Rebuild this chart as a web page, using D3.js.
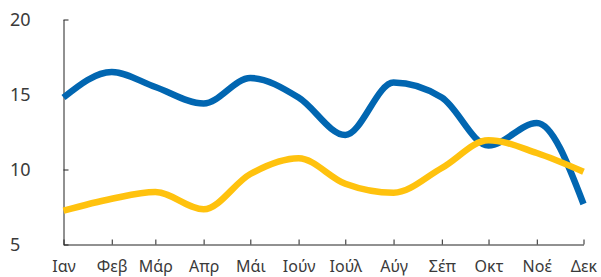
<!DOCTYPE html>
<html>
<head>
<meta charset="utf-8">
<script src="https://cdn.jsdelivr.net/npm/d3@7"></script>
<style>
  body { margin: 0; background: #fff; }
  text { font-family: "Noto Sans", sans-serif; fill: #3a3a3a; }
</style>
</head>
<body>
<div class="chart"></div>
<script>
// month labels (greek) and the first day of each month
var months = ["Ιαν", "Φεβ", "Μάρ", "Απρ", "Μάι", "Ιούν", "Ιούλ", "Αύγ", "Σέπ", "Οκτ", "Νοέ", "Δεκ"]
var blueValues = [14.8, 16.5, 15.5, 14.4, 16.1, 14.8, 12.3, 15.8, 14.8, 11.6, 13.1, 7.7]
var yellowValues = [7.25, 8.05, 8.5, 7.35, 9.7, 10.75, 9.05, 8.45, 10.1, 11.95, 11.1, 9.85]
var yTicks = [5, 10, 15, 20]

var width = 601
var height = 277

var svg = d3.select(".chart").append("svg")
    .attr("width", width)
    .attr("height", height)

var dates = months.map(function(_, i) { return new Date(2019, i, 1) })

var xScale = d3.scaleTime()
    .domain([dates[0], dates[11]])
    .range([63.5, 583.5])
var yScale = d3.scaleLinear()
    .domain([5, 20])
    .range([244.5, 19.5])

// x axis, ticks pointing up
var xAxis = d3.axisBottom(xScale)
    .tickValues(dates)
    .tickSizeInner(-5)
    .tickSizeOuter(0)
    .tickFormat(function(d, i) { return months[i] })
svg.append("g")
    .attr("class", "x-axis")
    .attr("transform", "translate(0," + yScale(5) + ")")
    .call(xAxis)
    .selectAll("text")
    .attr("y", 16)
    .attr("dy", "0.71em")
    .style("font-size", "16px")

// y axis, ticks pointing right, labels left aligned
var yAxis = d3.axisLeft(yScale)
    .tickValues(yTicks)
    .tickSizeInner(-5)
    .tickSizeOuter(0)
svg.append("g")
    .attr("class", "y-axis")
    .attr("transform", "translate(" + xScale(dates[0]) + ",0)")
    .call(yAxis)
    .selectAll("text")
    .attr("text-anchor", "start")
    .attr("x", 10 - xScale(dates[0]))
    .style("font-size", "18px")

svg.selectAll(".domain, .tick line").attr("stroke", "#222")
svg.selectAll(".tick text").style("font-family", "'Noto Sans', sans-serif").attr("fill", "#3a3a3a")

var line = d3.line()
    .x(function(d, i) { return xScale(dates[i]) })
    .y(function(d) { return yScale(d) })
    .curve(d3.curveMonotoneX)

svg.append("path")
    .datum(blueValues)
    .attr("d", line)
    .attr("fill", "none")
    .attr("stroke", "#0166b1")
    .attr("stroke-width", 6.5)

svg.append("path")
    .datum(yellowValues)
    .attr("d", line)
    .attr("fill", "none")
    .attr("stroke", "#ffc20e")
    .attr("stroke-width", 6.5)
</script>
</body>
</html>
